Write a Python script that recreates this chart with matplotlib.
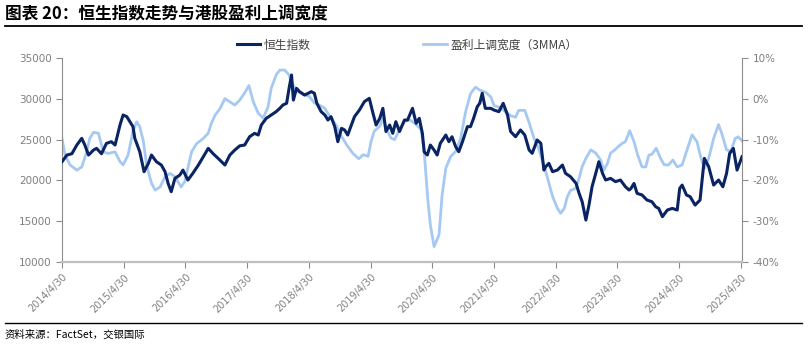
import matplotlib
matplotlib.use("Agg")
import matplotlib.pyplot as plt
from matplotlib.ticker import FuncFormatter

plt.rcParams['font.family'] = ['Noto Sans CJK SC', 'DejaVu Sans']

# ---- data (decimal years) ----
hsi_t = [2014.33, 2014.41, 2014.49, 2014.57, 2014.65, 2014.70, 2014.76, 2014.84, 2014.89, 2014.97,
         2015.05, 2015.13, 2015.19, 2015.27, 2015.32, 2015.38, 2015.43, 2015.48, 2015.51, 2015.59,
         2015.66, 2015.73, 2015.78, 2015.86, 2015.94, 2016.00, 2016.05, 2016.10, 2016.16, 2016.24,
         2016.29, 2016.37, 2016.45, 2016.54, 2016.62, 2016.70, 2016.78, 2016.86, 2016.97, 2017.05,
         2017.13, 2017.21, 2017.29, 2017.37, 2017.45, 2017.51, 2017.56, 2017.64, 2017.72, 2017.80,
         2017.86, 2017.91, 2017.97, 2018.01, 2018.05, 2018.08, 2018.13, 2018.18, 2018.26, 2018.32,
         2018.37, 2018.42, 2018.46, 2018.53, 2018.59, 2018.64, 2018.69, 2018.75, 2018.80, 2018.86,
         2018.91, 2018.96, 2019.02, 2019.07, 2019.15, 2019.23, 2019.31, 2019.37, 2019.42, 2019.48,
         2019.53, 2019.58, 2019.64, 2019.69, 2019.74, 2019.80, 2019.88, 2019.93, 2020.01, 2020.07,
         2020.12, 2020.17, 2020.20, 2020.25, 2020.30, 2020.36, 2020.41, 2020.46, 2020.55, 2020.60,
         2020.65, 2020.71, 2020.76, 2020.82, 2020.90, 2020.95, 2021.00, 2021.06, 2021.10, 2021.14,
         2021.19, 2021.28, 2021.33, 2021.41, 2021.48, 2021.55, 2021.60, 2021.68, 2021.76, 2021.83,
         2021.87, 2021.90, 2021.95, 2022.03, 2022.09, 2022.14, 2022.17, 2022.22, 2022.28, 2022.36,
         2022.44, 2022.49, 2022.57, 2022.66, 2022.71, 2022.76, 2022.82, 2022.87, 2022.92, 2022.98,
         2023.03, 2023.09, 2023.14, 2023.22, 2023.30, 2023.38, 2023.46, 2023.52, 2023.55, 2023.60,
         2023.65, 2023.73, 2023.81, 2023.89, 2023.95, 2024.00, 2024.06, 2024.14, 2024.22, 2024.30,
         2024.34, 2024.38, 2024.45, 2024.51, 2024.59, 2024.67, 2024.74, 2024.81, 2024.89, 2024.97,
         2025.04, 2025.10, 2025.15, 2025.21, 2025.27, 2025.32, 2025.35]
hsi_v = [22290, 23110, 23270, 24340, 25160, 24340, 23110, 23720, 23930, 23270,
         24540, 24750, 24340, 26800, 28030, 27830, 27210, 26600, 25160, 23520,
         21060, 22090, 23110, 22290, 21880, 21060, 19620, 18600, 20240, 20650,
         21260, 20040, 20860, 21880, 22900, 23930, 23270, 22700, 21880, 23110,
         23720, 24240, 24340, 25360, 25780, 25570, 26800, 27620, 28030, 28440,
         28850, 29260, 29470, 31310, 32950, 29870, 31310, 30900, 30490, 30700,
         30900, 30700, 29470, 28440, 28030, 27410, 27830, 26600, 24750, 26390,
         26190, 25570, 26800, 27830, 28640, 29670, 30080, 28240, 26800, 27620,
         28850, 26000, 26800, 25780, 27210, 26000, 27410, 27410, 28850, 27010,
         27620, 25780, 23500, 23110, 24340, 23720, 23110, 24540, 25570, 24750,
         25360, 24130, 23520, 24750, 26600, 26600, 27620, 29060, 29470, 30700,
         28850, 28850, 28640, 28440, 29470, 28030, 26000, 25360, 26190, 25570,
         24540, 23730, 23320, 24960, 24550, 21270, 21680, 22090, 21060, 21270,
         21880, 20860, 20450, 19640, 18400, 17370, 15120, 16960, 19220, 20860,
         22290, 20860, 20040, 20240, 19840, 20040, 19220, 18810, 19000, 19620,
         18400, 18200, 17580, 17370, 16760, 16550, 15530, 16350, 16550, 16350,
         19000, 19420, 18200, 17990, 16960, 17580, 22700, 21680, 19420, 20040,
         19210, 20860, 23310, 23930, 21260, 22290, 22900]

br_t = [2014.33, 2014.38, 2014.46, 2014.57, 2014.65, 2014.73, 2014.78, 2014.84, 2014.92, 2015.00,
        2015.08, 2015.19, 2015.27, 2015.32, 2015.40, 2015.48, 2015.54, 2015.59, 2015.65, 2015.70,
        2015.78, 2015.84, 2015.92, 2016.00, 2016.08, 2016.16, 2016.26, 2016.32, 2016.37, 2016.43,
        2016.51, 2016.62, 2016.70, 2016.75, 2016.81, 2016.89, 2016.97, 2017.05, 2017.13, 2017.21,
        2017.29, 2017.36, 2017.43, 2017.51, 2017.59, 2017.67, 2017.72, 2017.80, 2017.86, 2017.94,
        2018.01, 2018.06, 2018.15, 2018.26, 2018.34, 2018.42, 2018.50, 2018.59, 2018.67, 2018.77,
        2018.86, 2018.94, 2019.04, 2019.14, 2019.21, 2019.29, 2019.34, 2019.39, 2019.48, 2019.53,
        2019.58, 2019.66, 2019.72, 2019.80, 2019.88, 2019.96, 2020.04, 2020.15, 2020.20, 2020.26,
        2020.30, 2020.36, 2020.44, 2020.49, 2020.55, 2020.63, 2020.71, 2020.79, 2020.87, 2020.95,
        2021.03, 2021.11, 2021.19, 2021.28, 2021.33, 2021.41, 2021.49, 2021.60, 2021.68, 2021.73,
        2021.83, 2021.90, 2021.98, 2022.05, 2022.12, 2022.20, 2022.28, 2022.36, 2022.41, 2022.47,
        2022.52, 2022.57, 2022.66, 2022.71, 2022.76, 2022.82, 2022.90, 2022.98, 2023.06, 2023.11,
        2023.17, 2023.22, 2023.29, 2023.36, 2023.41, 2023.46, 2023.53, 2023.60, 2023.66, 2023.73,
        2023.79, 2023.84, 2023.89, 2023.96, 2024.03, 2024.09, 2024.16, 2024.23, 2024.30, 2024.38,
        2024.46, 2024.54, 2024.62, 2024.68, 2024.74, 2024.81, 2024.89, 2024.97, 2025.02, 2025.10,
        2025.17, 2025.24, 2025.29, 2025.35]
br_v = [-9.7, -13.8, -16.2, -17.5, -16.7, -13.0, -9.7, -8.2, -8.4, -13.0,
        -13.4, -13.0, -15.4, -16.2, -13.8, -8.0, -5.6, -6.8, -10.5, -16.2,
        -20.7, -22.4, -21.6, -19.1, -18.3, -19.1, -21.6, -20.3, -17.0, -13.0,
        -11.0, -9.7, -8.4, -6.0, -4.0, -2.4, 0.1, -0.7, -1.5, -0.3,
        1.5, 3.3, -0.7, -3.5, -4.7, -1.9, 2.6, 5.9, 7.1, 7.1,
        5.9, 3.8, 1.8, 1.0, 0.6, -1.0, -1.5, -2.3, -4.3, -6.4,
        -9.2, -11.2, -13.3, -14.7, -13.7, -14.1, -10.4, -7.9, -6.7, -4.7,
        -7.1, -9.6, -10.0, -7.5, -5.5, -5.1, -5.9, -7.5, -13.0, -25.0,
        -31.0, -36.3, -33.4, -23.6, -17.0, -14.1, -12.9, -9.7, -3.2, 1.3,
        2.9, 2.1, 1.7, 0.5, -1.6, -2.0, -2.8, -4.1, -4.5, -2.8,
        -2.8, -5.8, -9.7, -12.0, -15.4, -19.5, -24.0, -26.9, -28.1, -26.9,
        -24.0, -22.5, -21.9, -19.5, -16.6, -14.6, -12.5, -13.3, -15.0, -17.5,
        -15.8, -13.3, -12.5, -11.5, -10.9, -10.5, -7.8, -10.5, -13.8, -16.7,
        -16.7, -13.8, -13.6, -12.1, -14.6, -16.2, -16.2, -15.0, -16.7, -16.2,
        -12.5, -8.8, -10.5, -14.2, -17.1, -14.6, -9.7, -6.3, -8.4, -12.5,
        -12.9, -9.7, -9.3, -10.3]

tick_years = list(range(2014, 2026))
tick_pos = [y + 0.33 for y in tick_years]
tick_labels = [f"{y}/4/30" for y in tick_years]

series_names = ["恒生指数", "盈利上调宽度（3MMA）"]
dark = "#0A2463"
light = "#A6C9F2"
gray = "#7F7F7F"

fig = plt.figure(figsize=(8.1, 3.51), dpi=100)
ax = fig.add_axes([62/810, 1-261.7/351, (742-62)/810, (261.7-58.3)/351])
ax2 = ax.twinx()

l2, = ax2.plot(br_t, br_v, color=light, lw=2.0, label=series_names[1], zorder=2)
l1, = ax.plot(hsi_t, hsi_v, color=dark, lw=2.2, label=series_names[0], zorder=3)
ax.set_zorder(ax2.get_zorder() + 1)
ax.patch.set_visible(False)

ax.set_xlim(2014.33, 2025.35)
ax.set_ylim(10000, 35000)
ax.set_yticks(range(10000, 35001, 5000))
ax2.set_ylim(-40, 10)
ax2.set_yticks(range(-40, 11, 10))
ax2.yaxis.set_major_formatter(FuncFormatter(lambda v, p: f"{int(v)}%"))
ax.set_xticks(tick_pos)
ax.set_xticklabels(tick_labels, rotation=45, ha='right', rotation_mode='anchor',
                   family='DejaVu Sans')

for a in (ax, ax2):
    for s in a.spines.values():
        s.set_visible(False)
ax.spines['left'].set_visible(True)
ax.spines['left'].set_color('#8C8C8C')
ax.spines['bottom'].set_visible(True)
ax.spines['bottom'].set_color('#BFBFBF')
ax.spines['bottom'].set_linewidth(1.6)
ax2.spines['right'].set_visible(True)
ax2.spines['right'].set_color('#8C8C8C')

ax.tick_params(axis='y', colors='#8C8C8C', labelcolor=gray, labelsize=7.5, length=4, direction='out')
ax.tick_params(axis='x', colors='#8C8C8C', labelcolor=gray, labelsize=7, length=4, direction='out')
ax2.tick_params(axis='y', colors='#8C8C8C', labelcolor=gray, labelsize=7.5, length=4, direction='out')
for lab in ax.get_yticklabels() + ax2.get_yticklabels():
    lab.set_family('DejaVu Sans')

fig.legend(handles=[l1, l2], labels=series_names, loc='center', bbox_to_anchor=(407/810, 1-45/351),
           ncol=2, frameon=False, fontsize=8.5, handlelength=2.0, columnspacing=9.5,
           handletextpad=0.3, labelcolor='#404040')

fig.text(5/810, 1-13/351, "图表 20：恒生指数走势与港股盈利上调宽度", fontsize=12, fontweight='bold',
         va='center', ha='left', color='black')
fig.add_artist(plt.Line2D([5/810, 802/810], [1-26/351, 1-26/351], color='black', lw=1.3,
                          transform=fig.transFigure))
fig.add_artist(plt.Line2D([5/810, 802/810], [1-323/351, 1-323/351], color='black', lw=1.0,
                          transform=fig.transFigure))
fig.text(5/810, 1-335/351, "资料来源：FactSet，交银国际", fontsize=7.5, style='italic',
         va='center', ha='left', color='black')

fig.savefig("out.png", dpi=100)
